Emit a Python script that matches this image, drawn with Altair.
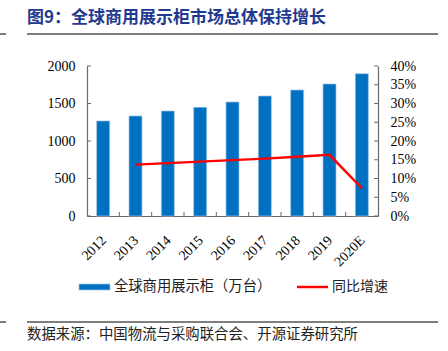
import altair as alt
import pandas as pd

years = ["2012", "2013", "2014", "2015", "2016", "2017", "2018", "2019", "2020E"]
units = [1267, 1333, 1400, 1449, 1520, 1600, 1680, 1760, 1897]
growth_years = ["2013", "2014", "2015", "2016", "2017", "2018", "2019", "2020E"]
growth = [0.137, 0.141, 0.145, 0.149, 0.153, 0.158, 0.163, 0.074]
left_ticks = [0, 500, 1000, 1500, 2000]
right_ticks = [0, 0.05, 0.10, 0.15, 0.20, 0.25, 0.30, 0.35, 0.40]

title_text = "图9：全球商用展示柜市场总体保持增长"
source_text = "数据来源：中国物流与采购联合会、开源证券研究所"
legend_bar = "全球商用展示柜（万台）"
legend_line = "同比增速"

W, H = 291, 150
BLUE = "#0070C0"
RED = "#FF0000"
AXIS = "#6b6b6b"
SERIF = "Liberation Serif"
CJK = "Noto Sans CJK SC"

bars_df = pd.DataFrame({"year": years, "units": units})
line_df = pd.DataFrame({"year": growth_years, "growth": growth})

xscale = alt.Scale(domain=years, paddingInner=0, paddingOuter=0)
xaxis = alt.Axis(title=None, labelAngle=-45, labelFont=SERIF, labelFontSize=14,
                 labelColor="#000", ticks=False, domainColor=AXIS, domainWidth=1.2,
                 labelPadding=17, labelOffset=-4, labelAlign="right", labelBaseline="top")

bars = alt.Chart(bars_df).mark_bar(size=13, color=BLUE, stroke="#9DC3E6", strokeWidth=0.7).encode(
    x=alt.X("year:N", scale=xscale, sort=years, axis=xaxis),
    y=alt.Y("units:Q", scale=alt.Scale(domain=[0, 2000], nice=False),
            axis=alt.Axis(title=None, orient="left", values=left_ticks, format="d",
                          ticks=False, grid=False,
                          labelFont=SERIF, labelFontSize=14, labelColor="#000",
                          domainColor=AXIS, domainWidth=1.2, labelPadding=12)),
)

line = alt.Chart(line_df).mark_line(color=RED, strokeWidth=2.5).encode(
    x=alt.X("year:N", scale=xscale, sort=years, axis=xaxis),
    y=alt.Y("growth:Q", scale=alt.Scale(domain=[0, 0.4], nice=False),
            axis=alt.Axis(title=None, orient="right", values=right_ticks, format=".0%",
                          ticks=False, grid=False, labelFont=SERIF, labelFontSize=14,
                          labelColor="#000", domainColor=AXIS, domainWidth=1.2,
                          labelPadding=12)),
)

# inward tick marks
xt_df = pd.DataFrame({"year": years[1:]})
xticks = alt.Chart(xt_df).mark_rule(color=AXIS, strokeWidth=1).encode(
    x=alt.X("year:N", scale=xscale, sort=years, bandPosition=0, axis=xaxis),
    y=alt.value(H - 4), y2=alt.value(H),
)
lt_df = pd.DataFrame({"v": left_ticks})
lticks = alt.Chart(lt_df).mark_rule(color=AXIS, strokeWidth=1).encode(
    y=alt.Y("v:Q", scale=alt.Scale(domain=[0, 2000], nice=False), axis=None),
    x=alt.value(0), x2=alt.value(4),
)
rt_df = pd.DataFrame({"v": right_ticks})
rticks = alt.Chart(rt_df).mark_rule(color=AXIS, strokeWidth=1).encode(
    y=alt.Y("v:Q", scale=alt.Scale(domain=[0, 0.4], nice=False), axis=None),
    x=alt.value(W - 4), x2=alt.value(W),
)

OX, OY = 87, 66  # plot origin in page coordinates


def one(d):
    return alt.Chart(pd.DataFrame(d))


title = one({"t": [title_text]}).mark_text(
    align="left", baseline="middle", font=CJK, fontSize=17, fontWeight="bold", color="#1F3A8F"
).encode(text="t:N", x=alt.value(27 - OX), y=alt.value(18 - OY))

source = one({"t": [source_text]}).mark_text(
    align="left", baseline="middle", font=CJK, fontSize=14.4, color="#222"
).encode(text="t:N", x=alt.value(27 - OX), y=alt.value(335 - OY))

rules_df = pd.DataFrame({
    "x": [27 - OX, 0 - OX, 27 - OX, 0 - OX],
    "x2": [438 - OX, 6 - OX, 438 - OX, 6 - OX],
    "y": [34 - OY, 34 - OY, 322 - OY, 322 - OY],
})
seps = alt.Chart(rules_df).mark_rule(color="#555", strokeWidth=1.5).encode(
    x=alt.X("x:Q", scale=None), x2="x2:Q", y=alt.Y("y:Q", scale=None)
)

leg_rect = one({"a": [0]}).mark_rect(color=BLUE, stroke="#9DC3E6", strokeWidth=0.7).encode(
    x=alt.value(79 - OX), x2=alt.value(110 - OX), y=alt.value(284 - OY), y2=alt.value(290 - OY)
)
leg_rect_t = one({"t": [legend_bar]}).mark_text(
    align="left", baseline="middle", font=CJK, fontSize=14.3, color="#222"
).encode(text="t:N", x=alt.value(114 - OX), y=alt.value(287 - OY))
leg_line = one({"a": [0]}).mark_rule(color=RED, strokeWidth=2.5).encode(
    x=alt.value(297 - OX), x2=alt.value(328 - OX), y=alt.value(287 - OY)
)
leg_line_t = one({"t": [legend_line]}).mark_text(
    align="left", baseline="middle", font=CJK, fontSize=14, color="#222"
).encode(text="t:N", x=alt.value(332 - OX), y=alt.value(287 - OY))

chart = alt.layer(
    bars, line, xticks, lticks, rticks, title, source, seps,
    leg_rect, leg_rect_t, leg_line, leg_line_t
).resolve_scale(y="independent").properties(
    width=W, height=H,
    autosize=alt.AutoSizeParams(type="none"),
    padding={"left": OX, "top": OY, "right": 448 - OX - W, "bottom": 351 - OY - H},
    background="white",
).configure_view(stroke=None)

chart.save("out.html", embed_options={"renderer": "svg", "actions": False})
